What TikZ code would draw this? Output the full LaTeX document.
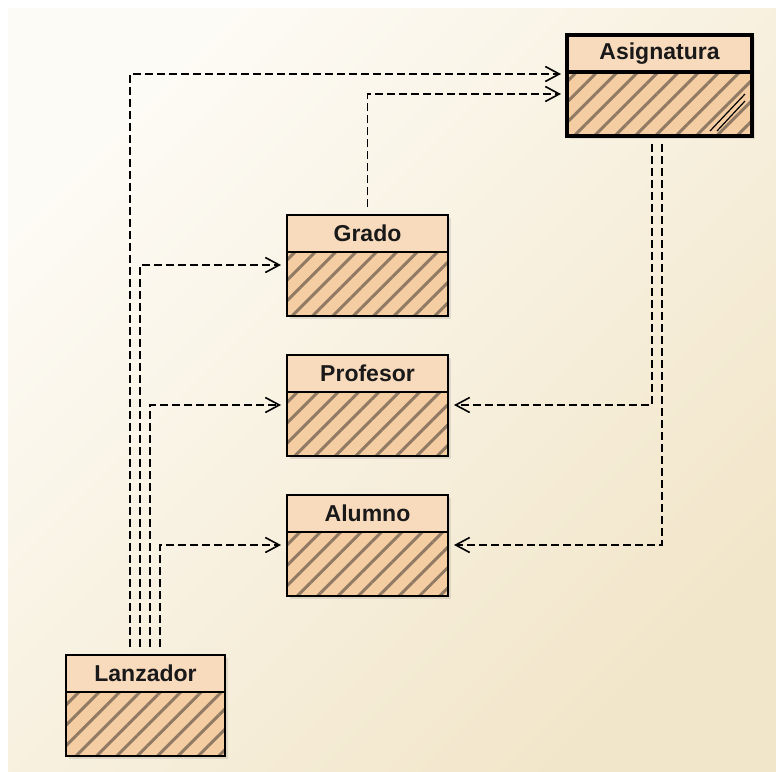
\documentclass[tikz,border=0pt]{standalone}
\usepackage{fontspec}
\setmainfont{Liberation Sans}
\usepackage{tikz}
\usetikzlibrary{positioning}
\usetikzlibrary{calc}
\usetikzlibrary{arrows.meta}
\usetikzlibrary{patterns.meta}
\usetikzlibrary{shadows}
\definecolor{bgA}{HTML}{FDFBF5}
\definecolor{bgB}{HTML}{F2E6CA}
\definecolor{hdrfill}{HTML}{F8DABD}
\definecolor{bodyfill}{HTML}{F5CDA2}
\definecolor{hatch}{HTML}{917A64}

\begin{document}
\begin{tikzpicture}[x=0.5pt,y=-0.5pt,
    hdr/.style={drop shadow={shadow xshift=1.5pt,shadow yshift=-1.5pt,opacity=.2},
      draw=black,line width=1pt,fill=hdrfill,inner sep=0pt,outer sep=0pt,
      minimum width=80.5pt,minimum height=18.5pt,text=black!90,
      font=\fontsize{11.5}{13}\selectfont\bfseries},
    body/.style={drop shadow={shadow xshift=1.5pt,shadow yshift=-1.5pt,opacity=.2},
      preaction={fill=bodyfill},draw=black,line width=1pt,
      pattern={Lines[angle=45,distance=7.2pt,line width=1.5pt]},pattern color=hatch,
      inner sep=0pt,outer sep=0pt,minimum width=80.5pt,minimum height=32pt},
    dep/.style={dash pattern=on 4pt off 2pt,line width=.8pt,
      -{Straight Barb[length=7pt,width=7.5pt]},shorten <=4pt,shorten >=3pt}]
    \fill[white] (0,0) rectangle (776,771);
    \shade[top color=bgA,bottom color=bgB,shading angle=45] (8,8) rectangle (776,771);
    \useasboundingbox (0,0) rectangle (776,771);

    % classes
    \node[hdr,minimum width=92.5pt,line width=2pt] (asig) at (659.5,53.5) {Asignatura};
    \node[body,minimum width=92.5pt,line width=2pt,below=0pt of asig] (asig-body) {};
    \draw[line width=.6pt] ($(asig-body.south east)+(-7,-42)$) -- ($(asig-body.south east)+(-42,-5)$);
    \draw[line width=.6pt] ($(asig-body.south east)+(-7,-35)$) -- ($(asig-body.south east)+(-35,-5)$);

    \node[hdr] (grado) at (367.5,233.5) {Grado};
    \node[body,below=0pt of grado] (grado-body) {};
    \node[hdr] (profesor) at (367.5,373.5) {Profesor};
    \node[body,below=0pt of profesor] (profesor-body) {};
    \node[hdr] (alumno) at (367.5,513.5) {Alumno};
    \node[body,below=0pt of alumno] (alumno-body) {};
    \node[hdr,minimum width=79.5pt] (lanzador) at (145.5,673.5) {Lanzador};
    \node[body,minimum width=79.5pt,below=0pt of lanzador] (lanzador-body) {};

    % dependencies
    \draw[dep] ($(lanzador.north west)+(64,0)$) |- ($(asig-body.north west)+(0,2)$);
    \draw[dep] (grado.north) |- ($(asig-body.north west)+(0,22)$);
    \draw[dep] ($(lanzador.north west)+(74,0)$) |- ($(grado-body.north west)+(0,13)$);
    \draw[dep] ($(lanzador.north west)+(84,0)$) |- ($(profesor-body.north west)+(0,13)$);
    \draw[dep] ($(lanzador.north west)+(94,0)$) |- ($(alumno-body.north west)+(0,13)$);
    \draw[dep] ($(asig-body.south west)+(85,0)$) |- ($(profesor-body.north east)+(0,13)$);
    \draw[dep] ($(asig-body.south west)+(95,0)$) |- ($(alumno-body.north east)+(0,13)$);
\end{tikzpicture}
\end{document}
